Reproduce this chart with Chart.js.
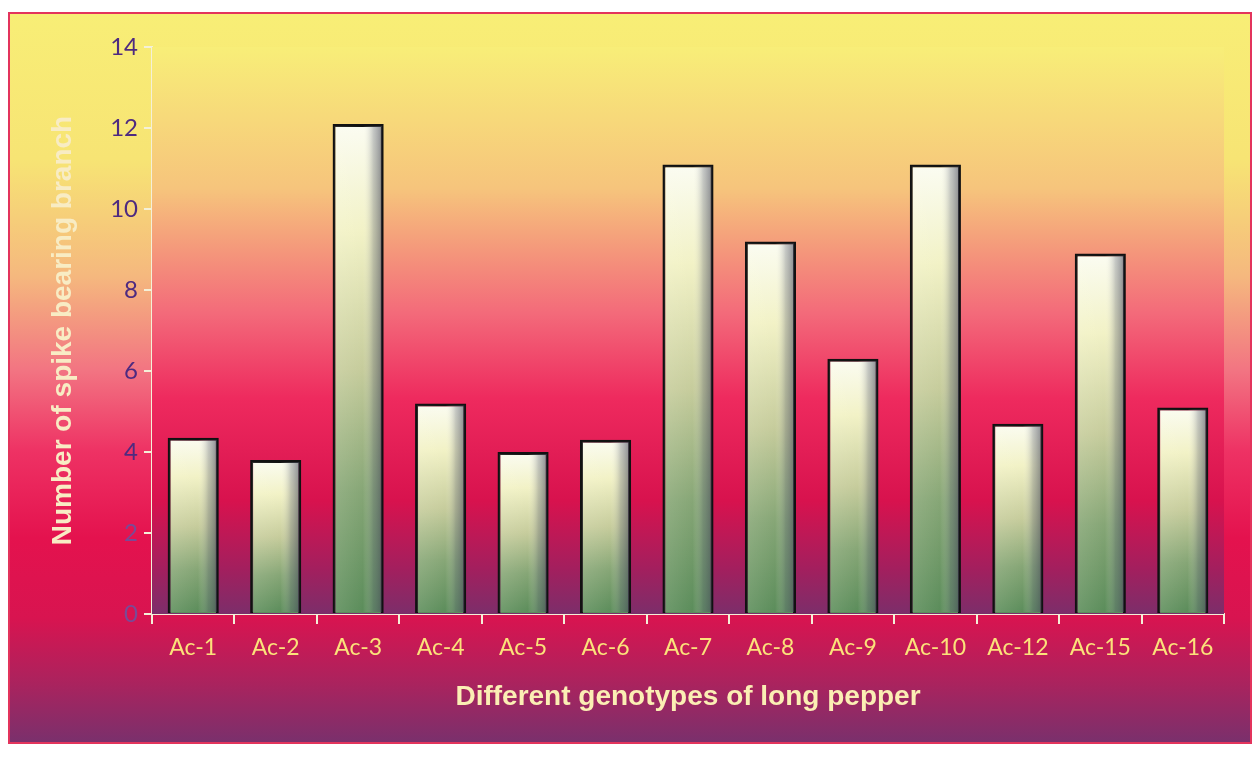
<!DOCTYPE html>
<html>
<head>
<meta charset="utf-8">
<script src="https://cdn.jsdelivr.net/npm/chart.js@4"></script>
<style>
  html, body { margin: 0; padding: 0; background: #ffffff; }
  #frame {
    position: absolute; left: 8px; top: 12px; width: 1240px; height: 728px;
    border: 2px solid #e3345c;
    background: linear-gradient(to bottom,
      #f8ee76 0%, #f7e474 20%, #f5b87e 36%, #f27482 49%, #ee3264 60%,
      #e4124e 72%, #d81450 83%, #aa235e 92%, #7a306c 100%);
  }
  #chart { display: block; }
</style>
</head>
<body>
<div id="frame"><canvas id="chart" width="1240" height="728"></canvas></div>
<script>
// Number of spike bearing branches per long pepper genotype
const genotypes = ['Ac-1','Ac-2','Ac-3','Ac-4','Ac-5','Ac-6','Ac-7','Ac-8','Ac-9','Ac-10','Ac-12','Ac-15','Ac-16'];
const spikeBranches = [4.35, 3.8, 12.1, 5.2, 4.0, 4.3, 11.1, 9.2, 6.3, 11.1, 4.7, 8.9, 5.1];
const yTicks = [0, 2, 4, 6, 8, 10, 12, 14];

// Warm plot-area wash behind the bars
const plotBackground = {
  id: 'plotBackground',
  beforeDatasetsDraw(chart) {
    const { ctx, chartArea: a } = chart;
    const g = ctx.createLinearGradient(0, a.top, 0, a.bottom);
    g.addColorStop(0, '#f8ee78');
    g.addColorStop(0.25, '#f6c47c');
    g.addColorStop(0.47, '#f36a7a');
    g.addColorStop(0.62, '#ee2a5e');
    g.addColorStop(0.80, '#d8124e');
    g.addColorStop(0.92, '#a31f5e');
    g.addColorStop(1, '#7c2e6a');
    ctx.save();
    ctx.fillStyle = g;
    ctx.fillRect(a.left, a.top, a.right - a.left, a.bottom - a.top);
    ctx.restore();
  }
};

// Cylinder-like shading on the right side of each bar
const barShade = {
  id: 'barShade',
  afterDatasetsDraw(chart) {
    const { ctx } = chart;
    chart.getDatasetMeta(0).data.forEach(bar => {
      const left = bar.x - bar.width / 2 + 2;
      const right = bar.x + bar.width / 2 - 2;
      const top = bar.y + 2;
      const bottom = bar.base - 1;
      const g = ctx.createLinearGradient(left, 0, right, 0);
      g.addColorStop(0, 'rgba(255,255,240,0.12)');
      g.addColorStop(0.6, 'rgba(255,255,240,0.0)');
      g.addColorStop(0.82, 'rgba(100,105,120,0.35)');
      g.addColorStop(1, 'rgba(70,72,90,0.6)');
      ctx.save();
      ctx.fillStyle = g;
      ctx.fillRect(left, top, right - left, bottom - top);
      ctx.restore();
    });
  }
};

new Chart(document.getElementById('chart'), {
  type: 'bar',
  data: {
    labels: genotypes,
    datasets: [{
      data: spikeBranches,
      borderColor: '#111111',
      borderWidth: 3,
      borderSkipped: 'bottom',
      barPercentage: 0.62,
      categoryPercentage: 1,
      backgroundColor(context) {
        const chart = context.chart;
        const y = chart.scales.y;
        if (!y || !chart.chartArea) return '#c8d0a0';
        const v = context.parsed ? context.parsed.y : spikeBranches[context.dataIndex];
        const top = y.getPixelForValue(v);
        const base = y.getPixelForValue(0);
        const g = chart.ctx.createLinearGradient(0, top, 0, base);
        g.addColorStop(0, '#fbfcf2');
        g.addColorStop(0.22, '#f2f2c6');
        g.addColorStop(0.5, '#c6cc9c');
        g.addColorStop(0.75, '#86a676');
        g.addColorStop(1, '#5a8c5a');
        return g;
      }
    }]
  },
  options: {
    responsive: false,
    animation: false,
    layout: { padding: { top: 33, right: 26, bottom: 0, left: 0 } },
    plugins: { legend: { display: false }, tooltip: { enabled: false } },
    scales: {
      x: {
        afterFit(scale) { scale.height = 128; },
        border: { display: true, color: '#f4f0d8', width: 2 },
        grid: { offset: true, drawOnChartArea: false, color: '#f4f0d8', tickLength: 10, lineWidth: 2 },
        ticks: { color: '#fbe27a', font: { family: 'Lato', size: 23 }, padding: 10 },
        title: {
          display: true,
          text: 'Different genotypes of long pepper',
          color: '#fbeeb4',
          font: { family: 'Liberation Sans', size: 28, weight: 'bold' },
          padding: { top: 12, bottom: 28 }
        }
      },
      y: {
        min: 0, max: 14,
        afterFit(scale) { scale.width = 142; },
        afterBuildTicks(scale) { scale.ticks = yTicks.map(v => ({ value: v })); },
        border: { display: true, color: '#f4f0d8', width: 2 },
        grid: { drawOnChartArea: false, color: '#f4f0d8', tickLength: 8, lineWidth: 2 },
        ticks: {
          color(ctx) { return ctx.tick && ctx.tick.value <= 2 ? '#7a4a96' : '#4e2a80'; },
          font: { family: 'Lato', size: 24 },
          padding: 6
        },
        title: {
          display: true,
          text: 'Number of spike bearing branch',
          color: '#f8ecc4',
          font: { family: 'Liberation Sans', size: 28, weight: 'bold' },
          padding: { top: 36, bottom: 0 }
        }
      }
    }
  },
  plugins: [plotBackground, barShade]
});
</script>
</body>
</html>
